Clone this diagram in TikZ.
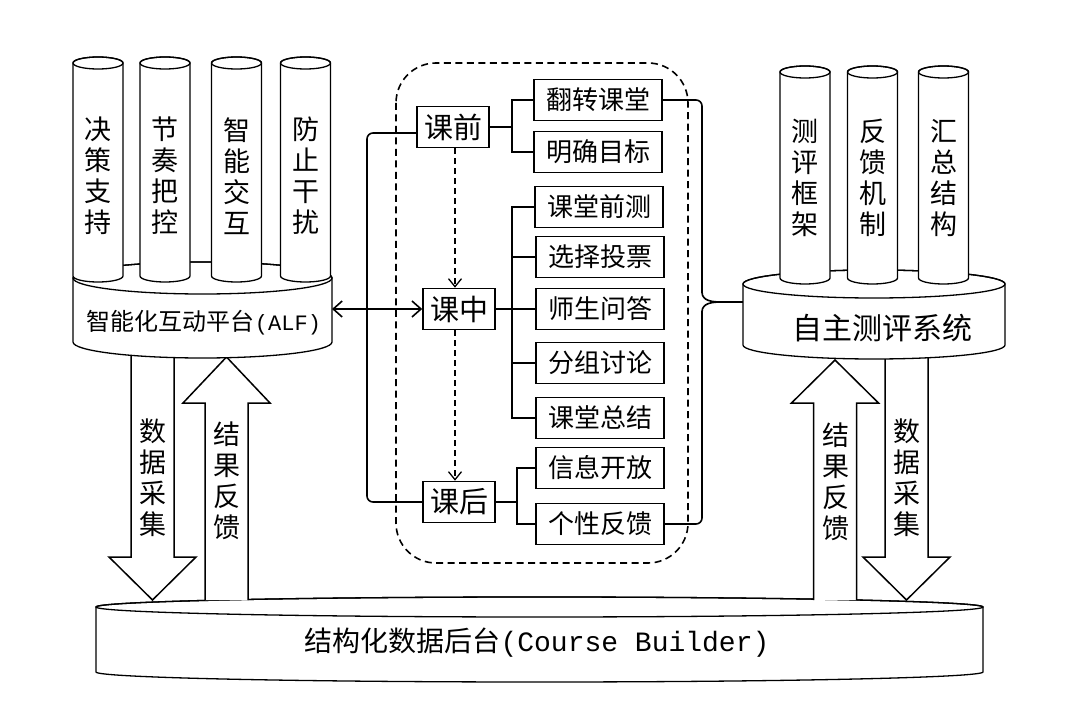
\documentclass[tikz,border=0pt]{standalone}
\usepackage{fontspec}
\newfontfamily\cjk{Noto Sans CJK SC}
\newfontfamily\lmono{Liberation Mono}
\usetikzlibrary{arrows.meta}
\tikzset{
  box/.style={draw, line width=1.6pt, fill=white, minimum width=128pt, minimum height=41pt, inner sep=0pt, font=\cjk\fontsize{26}{26}\selectfont},
  stagebox/.style={box, minimum width=72pt, font=\cjk\fontsize{29}{29}\selectfont},
  conn/.style={line width=1.8pt},
  vlabel/.style={align=center, font=\cjk\fontsize{27}{31}\selectfont, inner sep=0pt},
  cyl/.style={line width=1.3pt, fill=white},
  bigarrow/.style={line width=1.5pt, fill=white, line join=miter},
  barb/.style={-{Straight Barb[length=9pt,width=16pt]}},
  dasharr/.style={line width=1.3pt, dash pattern=on 6pt off 4pt, -{Straight Barb[length=8pt,width=13pt]}},
}
\newcommand{\mycyl}[5]{%
  \filldraw[cyl] (#1-#2,#3) -- (#1-#2,#4) arc[start angle=180, end angle=360, x radius=#2pt, y radius=#5pt] -- (#1+#2,#3) arc[start angle=0, end angle=180, x radius=#2pt, y radius=#5pt] -- cycle;
  \draw[cyl, fill=none] (#1,#3) ellipse[x radius=#2pt, y radius=#5pt];
}
\newcommand{\arrvert}[4]{% cx, y start (tail), y head base, y tip
  \filldraw[bigarrow] (#1-21.5,#2) -- (#1-21.5,#3) -- (#1-43.5,#3) -- (#1,#4) -- (#1+43.5,#3) -- (#1+21.5,#3) -- (#1+21.5,#2);
}
\begin{document}
\begin{tikzpicture}[x=1pt,y=-1pt]
\useasboundingbox[fill=white] (0,0) rectangle (1080,722);

% ---- bottom back-end cylinder
\mycyl{539.5}{443.5}{607}{672}{10}
\node[font=\cjk\fontsize{28}{28}\selectfont, inner sep=0pt] (cb) at (537,643) {结构化数据后台{\lmono (Course Builder)}};

% ---- big hollow arrows
\arrvert{152.5}{345}{557}{600}
\arrvert{226.5}{600}{403}{357}
\arrvert{835}{600}{403}{360}
\arrvert{906.5}{348}{557}{600}
\node[vlabel] (l1) at (152.5,478) {数\\据\\采\\集};
\node[vlabel] (l2) at (226.5,481) {结\\果\\反\\馈};
\node[vlabel] (r1) at (835.5,482) {结\\果\\反\\馈};
\node[vlabel] (r2) at (906.5,478) {数\\据\\采\\集};

% ---- left platform with pillars
\mycyl{202.5}{129.5}{278}{342}{16}
\mycyl{98}{25}{63}{276}{6}
\mycyl{165}{25}{63}{276}{6}
\mycyl{236.5}{25}{63}{276}{6}
\mycyl{305.5}{25}{63}{276}{6}
\node[vlabel] (p1) at (98,176) {决\\策\\支\\持};
\node[vlabel] (p2) at (165,176) {节\\奏\\把\\控};
\node[vlabel] (p3) at (236.5,176) {智\\能\\交\\互};
\node[vlabel] (p4) at (305.5,176) {防\\止\\干\\扰};
\node[font=\cjk\fontsize{24}{24}\selectfont, inner sep=0pt] (alf) at (204,323) {智能化互动平台{\lmono\fontsize{22}{22}\selectfont (ALF)}};
\coordinate (alfR) at (332,309);

% ---- right platform with pillars
\mycyl{874}{131}{284}{345}{14}
\mycyl{805}{25}{72}{278}{6}
\mycyl{872.5}{25}{72}{278}{6}
\mycyl{943.5}{25}{72}{278}{6}
\node[vlabel] (q1) at (805,178) {测\\评\\框\\架};
\node[vlabel] (q2) at (872.5,178) {反\\馈\\机\\制};
\node[vlabel] (q3) at (943.5,178) {汇\\总\\结\\构};
\node[font=\cjk\fontsize{30}{30}\selectfont, inner sep=0pt] (self) at (882,328) {自主测评系统};
\coordinate (selfL) at (743,302);

% ---- dashed frame
\draw[line width=1.6pt, dash pattern=on 7pt off 4.5pt, rounded corners=40pt] (396,63) rectangle (688,563);

% ---- stage boxes
\node[stagebox] (qian) at (453,127) {课前};
\node[stagebox] (zhong) at (459,309) {课中};
\node[stagebox] (hou) at (459,502) {课后};

% ---- activity boxes
\node[box] (fz) at (598,100) {翻转课堂};
\node[box] (mq) at (598,152) {明确目标};
\node[box] (qc) at (599,207) {课堂前测};
\node[box] (xz) at (600,257) {选择投票};
\node[box] (ss) at (600,309) {师生问答};
\node[box] (fd) at (600,363) {分组讨论};
\node[box] (zj) at (600,418) {课堂总结};
\node[box] (xx) at (600,468) {信息开放};
\node[box] (gx) at (600,524) {个性反馈};

% ---- tree connectors
\coordinate (t1) at (512,0);
\coordinate (t2) at (512,0);
\coordinate (t3) at (517,0);
\draw[conn] (qian.east) -- (qian.east -| t1);
\draw[conn] (fz.west) -- (fz.west -| t1) -- (mq.west -| t1) -- (mq.west);
\draw[conn] (qc.west) -- (qc.west -| t2) -- (zj.west -| t2) -- (zj.west);
\draw[conn] (xz.west) -- (xz.west -| t2);
\draw[conn] (fd.west) -- (fd.west -| t2);
\draw[conn] (zhong.east) -- (ss.west);
\draw[conn] (hou.east) -- (hou.east -| t3);
\draw[conn] (xx.west) -- (xx.west -| t3) -- (gx.west -| t3) -- (gx.west);

% ---- dashed flow arrows
\draw[dasharr] (qian.south -| 455,0) -- (zhong.north -| 455,0);
\draw[dasharr] (zhong.south -| 455,0) -- (hou.north -| 455,0);

% ---- left bracket
\coordinate (lb) at (367,0);
\draw[conn, line width=1.6pt, rounded corners=6pt] ([yshift=-6pt]qian.west) -- ([yshift=-6pt]qian.west -| lb) -- (hou.west -| lb) -- (hou.west);

% ---- double arrow
\draw[line width=1.6pt, {Straight Barb[length=9pt,width=16pt]}-{Straight Barb[length=9pt,width=16pt]}] (alfR) -- (zhong.west);

% ---- right brace
\coordinate (rb) at (702,0);
\coordinate (tip) at (722,302);
\draw[line width=1.6pt, rounded corners=6pt] (fz.east) -- (fz.east -| rb) -- (702,293);
\draw[line width=1.6pt] (702,292) .. controls (702,301) and (712,302) .. (tip) .. controls (712,302) and (702,303) .. (702,312);
\draw[line width=1.6pt, rounded corners=6pt] (702,311) -- (gx.east -| rb) -- (gx.east);
\draw[line width=1.6pt] (tip) -- (selfL);
\end{tikzpicture}
\end{document}
